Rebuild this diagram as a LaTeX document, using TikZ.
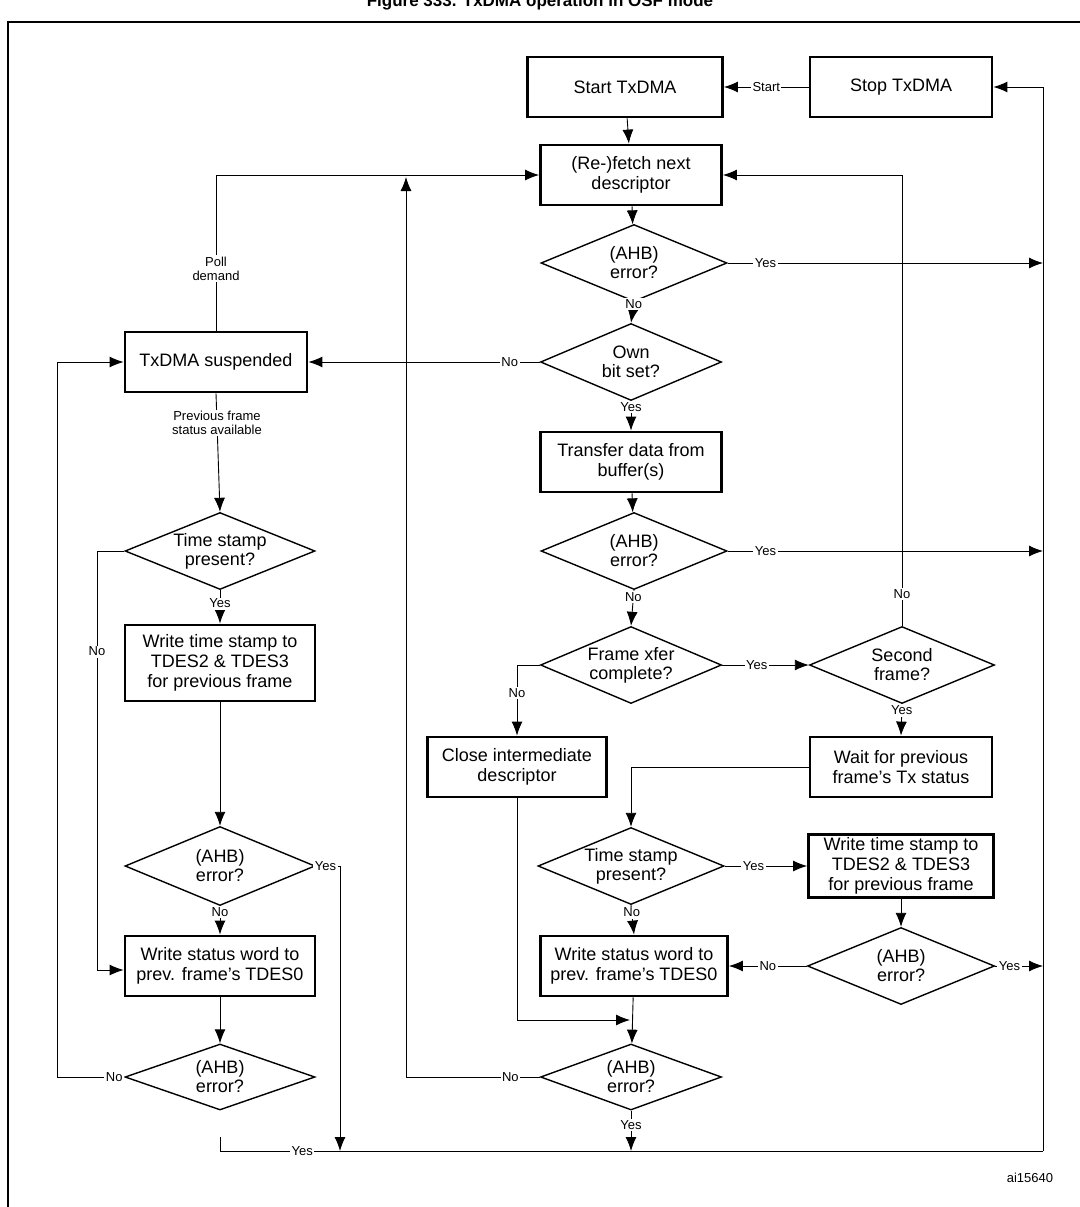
\documentclass[tikz,border=0pt]{standalone}
\usepackage{fontspec}
\setmainfont{Liberation Sans}
\usetikzlibrary{shapes.geometric,arrows.meta}
\tikzstyle{box}=[shape = rectangle, draw, line width = 2.8pt, align = center, minimum height = 60pt, inner sep = 2pt, font = \fontsize{18}{20}\selectfont]
\tikzstyle{test}=[shape = diamond, draw, line width = 1.4pt, align = center, inner xsep = -22pt, inner ysep = -9pt, aspect = 2.4, minimum width = 186pt, minimum height = 77pt, font = \fontsize{18}{19}\selectfont]
\tikzstyle{lbl}=[fill = white, inner sep = 1.5pt, align = center, font = \fontsize{13}{14}\selectfont]

\begin{document}
\begin{tikzpicture}[x = 1pt, y = -1pt]
\tikzstyle{arr} = [line width = 0.9pt, -{Latex[length = 14pt, width = 11pt]}]
\tikzstyle{ln} = [line width = 0.9pt]
\useasboundingbox (0,0) rectangle (1079,1207);
\node[font = \bfseries\fontsize{17}{20}\selectfont] (title) at (540,2) {Figure 333. TxDMA operation in OSF mode};
\draw[line width = 1.5pt] (8,1230) -- (8,22) -- (1100,22);
% right column
\node[box, minimum width = 195pt] (start) at (625,87) {Start TxDMA};
\node[box, minimum width = 182pt] (stop) at (901,87) {Stop TxDMA};
\node[box, minimum width = 181pt] (fetch) at (631,175) {(Re-)fetch next\\descriptor};
\node[test] (ahbA) at (634,263) {(AHB)\\error?};
\node[test, minimum width = 181pt] (own) at (631,362) {Own\\bit set?};
\node[box, minimum width = 181pt] (xfer) at (631,462) {Transfer data from\\buffer(s)};
\node[test] (ahbB) at (634,551) {(AHB)\\error?};
\node[test, minimum width = 181pt] (frame) at (631,665) {Frame xfer\\complete?};
\node[test, minimum width = 185pt] (second) at (902,665) {Second\\frame?};
\node[box, minimum width = 182pt] (wait) at (901,767) {Wait for previous\\frame's Tx status};
\node[box, minimum width = 179pt] (close) at (517,767) {Close intermediate\\descriptor};
\node[test] (tsB) at (631,866) {Time stamp\\present?};
\node[box, minimum width = 185pt, minimum height = 63pt] (wtsB) at (901,866) {Write time stamp to\\TDES2 \& TDES3\\for previous frame};
\node[test, minimum width = 187pt] (ahbE) at (901,966) {(AHB)\\error?};
\node[box, minimum width = 187pt] (wsB) at (634,966) {Write status word to\\prev. frame's TDES0};
\node[test, minimum width = 181pt, minimum height = 66pt] (ahbF) at (631,1077) {(AHB)\\error?};
% left column
\node[box, minimum width = 182pt] (susp) at (216,362) {TxDMA suspended};
\node[test, minimum width = 190pt] (tsA) at (220,551) {Time stamp\\present?};
\node[box, minimum width = 190pt, minimum height = 76pt] (wtsA) at (220,663) {Write time stamp to\\TDES2 \& TDES3\\for previous frame};
\node[test, minimum width = 190pt, minimum height = 79pt] (ahbD) at (220,866) {(AHB)\\error?};
\node[box, minimum width = 190pt] (wsA) at (220,966) {Write status word to\\prev. frame's TDES0};
\node[test, minimum width = 190pt, minimum height = 66pt] (ahbG) at (220,1077) {(AHB)\\error?};
\node[font = \fontsize{13}{14}\selectfont] (ref) at (1030,1178) {ai15640};
% rail and joints
\coordinate (railBot) at (1043,1151);
\coordinate (railA) at (1043,263);
\coordinate (railB) at (1043,551);
\coordinate (railE) at (1043,966);
\coordinate (jF) at (406,177);
\coordinate (jM) at (630,1020);
\coordinate (cNo) at (97,970);
\coordinate (cL) at (57,1077);
\coordinate (botD) at (340,1151);
\coordinate (bl) at (220,1137);
% connectors
\draw[arr] (stop) -- node[lbl] {Start} (start);
\draw[arr] (railBot) |- (stop.east);
\draw[arr] (start) -- (fetch);
\draw[arr] (fetch) -- (ahbA);
\draw[arr] (ahbA.east) -- node[lbl, pos = 0.12] {Yes} (railA);
\draw[arr] (ahbA.south) -- node[lbl, pos = 0.1] {No} (own.north);
\draw[arr] (own.west) -- node[lbl, pos = 0.13] {No} (susp.east);
\draw[arr] (own.south) -- node[lbl, pos = 0.2] {Yes} (xfer.north);
\draw[arr] (xfer) -- (ahbB);
\draw[arr] (ahbB.east) -- node[lbl, pos = 0.12] {Yes} (railB);
\draw[arr] (ahbB.south) -- node[lbl, pos = 0.2] {No} (frame.north);
\draw[arr] (frame.east) -- node[lbl, pos = 0.4] {Yes} (second.west);
\draw[arr] (second.north) |- node[lbl, pos = 0.035] {No} (fetch.east);
\draw[arr] (second.south) -- node[lbl, pos = 0.2] {Yes} (wait.north);
\draw[arr] (frame.west) -| node[lbl, pos = 0.7] {No} (close.north);
\draw[arr] (close.south) |- (jM);
\draw[arr] (wait.west) -| (tsB.north);
\draw[arr] (tsB.east) -- node[lbl, pos = 0.35] {Yes} (wtsB.west);
\draw[arr] (tsB.south) -- node[lbl, pos = 0.25] {No} (wsB.north);
\draw[arr] (wtsB) -- (ahbE);
\draw[arr] (ahbE.east) -- node[lbl, pos = 0.3] {Yes} (railE);
\draw[arr] (ahbE.west) -- node[lbl, pos = 0.5] {No} (wsB.east);
\draw[arr] (wsB) -- (ahbF);
\draw[arr] (ahbF.west) -| node[lbl, pos = 0.11] {No} (jF);
\draw[arr] (ahbF.south) -- node[lbl, pos = 0.35] {Yes} (ahbF.south |- railBot);
\draw[arr] (susp.north) |- node[lbl, pos = 0.2] {Poll\\demand} (fetch.west);
\draw[arr] (susp.south) -- node[lbl, pos = 0.25] {Previous frame\\status available} (tsA.north);
\draw[arr] (tsA.south) -- node[lbl, pos = 0.4] {Yes} (wtsA.north);
\draw[arr] (wtsA) -- (ahbD);
\draw[arr] (ahbD.south) -- node[lbl, pos = 0.2] {No} (wsA.north);
\draw[arr] (ahbD.east) -| node[lbl, pos = 0.2] {Yes} (botD);
\draw[ln] (tsA.west) -| node[lbl, pos = 0.62] {No} (cNo);
\draw[arr] (cNo) -- (wsA.west |- cNo);
\draw[arr] (wsA) -- (ahbG);
\draw[ln] (ahbG.west) -- node[lbl, pos = 0.15] {No} (cL);
\draw[arr] (cL) |- (susp.west);
\draw[ln] (bl) |- node[lbl, pos = 0.55] {Yes} (railBot);
\end{tikzpicture}
\end{document}
